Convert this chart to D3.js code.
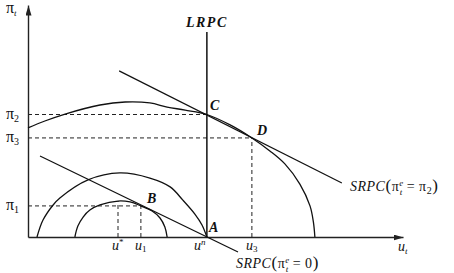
<!DOCTYPE html>
<html>
<head>
<meta charset="utf-8">
<script src="https://cdn.jsdelivr.net/npm/d3@7"></script>
<style>
  body { margin: 0; background: #fff; }
  svg { display: block; }
  text { font-family: "Liberation Serif", "DejaVu Serif", serif; fill: #111; }
</style>
</head>
<body>
<script>
const W = 454, H = 273

// u on the horizontal axis, pi on the vertical one (arbitrary 0-100 units)
const uTickValues = [24, 30.1, 47.7, 59.7]
const uTickLabels = [['u', '*', 'sup'], ['u', '1', 'sub'], ['u', 'n', 'sup'], ['u', '3', 'sub']]
const piTickValues = [13.4, 42.7, 52.8]
const piTickLabels = ['1', '3', '2']

// indifference curves
const bigArc = [[0, 47], [4.5, 50], [9.9, 53], [19.2, 56.9], [25.9, 58.2], [32.5, 57.8], [37.1, 56],
  [41.9, 54.7], [47.7, 52.8], [53.9, 48.3], [59.7, 42.7], [64.5, 37.1], [68.5, 31.5], [72.5, 22.8],
  [75.2, 13.4], [76.1, 6.5], [76.5, 0]]
const midArc = [[2.4, 0], [4, 7.3], [6.7, 13.8], [8.5, 16.8], [16, 24.6], [24.5, 27.6], [32.5, 25.4],
  [37.9, 21.6], [41.3, 15.9], [44.5, 9.9], [46.4, 5.2], [47.7, 0]]
const smallArc = [[12.5, 0], [13.3, 4.7], [14.7, 8.6], [16.5, 11.6], [19.2, 13.8], [24, 15.5], [27.2, 15.1],
  [30.1, 13.4], [33.1, 11.2], [35.2, 8.2], [36.5, 4.3], [37.1, 0]]

// phillips curves
const srpc0 = [[3.2, 34.9], [56, -6.5]]
const srpc2 = [[24.3, 71.6], [83.7, 23.3]]
const lrpc = [[47.7, 0], [47.7, 88.4]]

// equilibrium points
const pointNames = ['A', 'B', 'C', 'D']
const pointU = [47.7, 30.1, 47.7, 59.7]
const pointPi = [0, 13.4, 52.8, 42.7]

const x = d3.scaleLinear().domain([0, 100]).range([28, 403])
const y = d3.scaleLinear().domain([0, 100]).range([237, 5])

const svg = d3.select('body').append('svg')
  .attr('width', W)
  .attr('height', H)

svg.append('defs').append('marker')
  .attr('id', 'arrow')
  .attr('viewBox', '0 0 10 6')
  .attr('refX', 10).attr('refY', 3)
  .attr('markerWidth', 10).attr('markerHeight', 6)
  .attr('markerUnits', 'userSpaceOnUse')
  .attr('orient', 'auto')
  .append('path')
  .attr('d', 'M0,0L10,3L0,6Z')
  .attr('fill', '#222')

// axes, the domain path gets the arrow head
svg.append('g')
  .attr('transform', `translate(0,${y(0)})`)
  .call(d3.axisBottom(x).tickValues([]).tickSizeOuter(0))
svg.append('g')
  .attr('transform', `translate(${x(0)},0)`)
  .call(d3.axisLeft(y).tickValues([]).tickSizeOuter(0))
svg.selectAll('.domain')
  .attr('stroke', '#222')
  .attr('stroke-width', 1.4)
  .attr('marker-end', 'url(#arrow)')

const line = d3.line().x(d => x(d[0])).y(d => y(d[1]))
const smooth = d3.line().x(d => x(d[0])).y(d => y(d[1])).curve(d3.curveCatmullRom.alpha(0.5))

// dashed guides
const dashes = [
  [[0, pointPi[2]], [pointU[2], pointPi[2]]],
  [[0, pointPi[3]], [pointU[3], pointPi[3]]],
  [[pointU[3], 0], [pointU[3], pointPi[3]]],
  [[0, pointPi[1]], [pointU[1], pointPi[1]]],
  [[pointU[1], 0], [pointU[1], pointPi[1]]],
  [[uTickValues[0], 0], [uTickValues[0], 15.5]]
]
svg.selectAll('.dash').data(dashes).join('path')
  .attr('class', 'dash')
  .attr('d', line)
  .attr('fill', 'none')
  .attr('stroke', '#222')
  .attr('stroke-width', 1)
  .attr('stroke-dasharray', '4,3')

svg.selectAll('.arc').data([bigArc, midArc, smallArc]).join('path')
  .attr('class', 'arc')
  .attr('d', smooth)
  .attr('fill', 'none')
  .attr('stroke', '#111')
  .attr('stroke-width', 1.3)

svg.selectAll('.pc').data([srpc0, srpc2, lrpc]).join('path')
  .attr('class', 'pc')
  .attr('d', line)
  .attr('fill', 'none')
  .attr('stroke', '#111')
  .attr('stroke-width', (d, i) => i == 2 ? 1.5 : 1.2)

// text helper: parts are [text, size, dx, dy, style]
function rich(px, py, parts, anchor) {
  let t = svg.append('text').attr('x', px).attr('y', py).attr('text-anchor', anchor || 'start')
  parts.forEach(p => {
    let s = t.append('tspan').text(p[0]).attr('font-size', p[1])
    if (p[2]) s.attr('dx', p[2])
    if (p[3]) s.attr('dy', p[3])
    if (p[4]) s.attr('font-style', p[4])
  })
  return t
}

// pi tick labels
piTickValues.forEach((v, i) => {
  rich(6, y(v) + 4, [['π', 16], [piTickLabels[i], 10, 0, 3]])
})
rich(6, 13, [['π', 16], ['t', 9, 0, 3, 'italic']])

// u tick labels
const uShift = [-6, -6, -13, -6]
uTickValues.forEach((v, i) => {
  let l = uTickLabels[i]
  let d = l[2] == 'sup' ? -5 : 2
  rich(x(v) + uShift[i], 250, [['u', 14, 0, 0, 'italic'], [l[1], 9, 0, d, l[1] == 'n' ? 'italic' : null]])
})
rich(398, 251, [['u', 14, 0, 0, 'italic'], ['t', 9, 0, 3, 'italic']])

// point names
const nameDx = [2, 6, 3, 5]
const nameDy = [-5, -3, -5, -3]
pointNames.forEach((n, i) => {
  svg.append('text')
    .attr('x', x(pointU[i]) + nameDx[i])
    .attr('y', y(pointPi[i]) + nameDy[i])
    .attr('font-size', 14)
    .attr('font-style', 'italic')
    .attr('font-weight', 'bold')
    .text(n)
})

svg.append('text')
  .attr('x', x(lrpc[1][0]))
  .attr('y', 27)
  .attr('text-anchor', 'middle')
  .attr('font-size', 14)
  .attr('font-style', 'italic')
  .attr('font-weight', 'bold')
  .attr('letter-spacing', 1.5)
  .text('LRPC')

function srpcLabel(px, py, last) {
  let parts = [['SRPC', 14, 0, 0, 'italic'], ['(', 17], ['π', 14], ['e', 9, 0, -5, 'italic'],
    ['t', 9, -4, 9, 'italic']]
  if (last) parts.push([' = π', 14, 0, -4], [last, 10, 0, 3], [')', 17, 0, -3])
  else parts.push([' = 0', 14, 0, -4], [')', 17])
  rich(px, py, parts).attr('letter-spacing', 0.5)
}
srpcLabel(350, 191, '2')
srpcLabel(236, 268, null)
</script>
</body>
</html>
